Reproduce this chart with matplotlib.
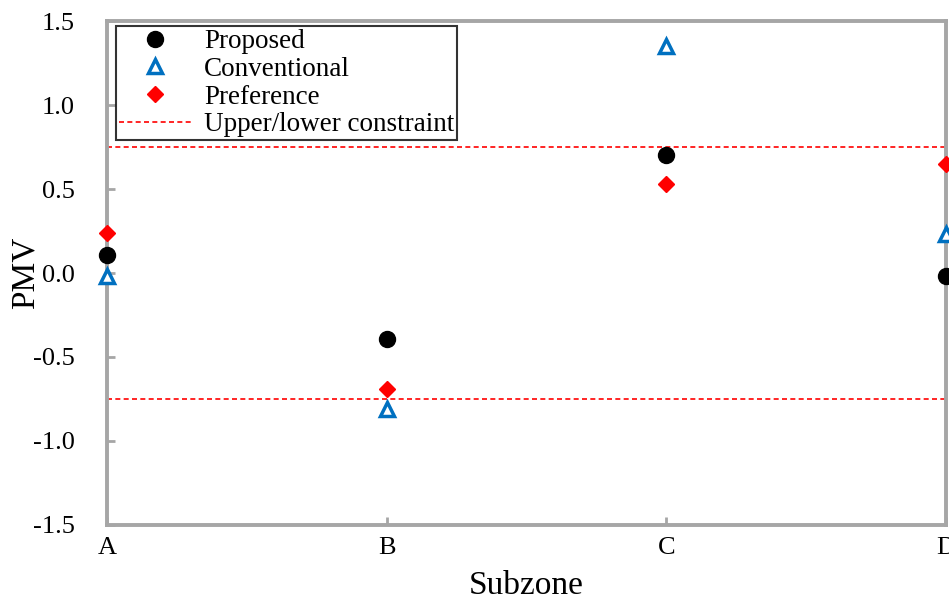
import matplotlib.pyplot as plt
import numpy as np

plt.rcParams['font.family'] = ['Liberation Serif', 'DejaVu Serif']

subzones = ["A", "B", "C", "D"]
proposed = [0.11, -0.39, 0.70, -0.02]
conventional = [-0.02, -0.81, 1.35, 0.23]
preference = [0.24, -0.69, 0.53, 0.65]
upper_limit = 0.75
lower_limit = -0.75

grey = "#A6A6A6"

fig = plt.figure(figsize=(9.49, 6.01), dpi=100)
ax = fig.add_axes([0.1128, 0.1265, 0.8840, 0.8385])

x = np.arange(len(subzones))
ax.plot(x, proposed, "o", color="black", markersize=11.5, linestyle="none",
        label="Proposed", clip_on=False, zorder=4)
ax.plot(x, conventional, "^", markerfacecolor="white", markeredgecolor="#0070C0",
        markeredgewidth=2.5, markersize=10, linestyle="none",
        label="Conventional", clip_on=False, zorder=4)
ax.plot(x, preference, "D", color="#FF0000", markersize=8.5, linestyle="none",
        label="Preference", clip_on=False, zorder=5)
ax.axhline(upper_limit, color="#FF0000", linestyle=(0, (3, 2)), linewidth=1.2,
           label="Upper/lower constraint", clip_on=False)
ax.axhline(lower_limit, color="#FF0000", linestyle=(0, (3, 2)), linewidth=1.2,
           clip_on=False)

ax.set_xlim(0, 3)
ax.set_ylim(-1.5, 1.5)
ax.set_xticks(x)
ax.set_xticklabels(subzones)
ax.set_yticks(np.arange(-1.5, 1.51, 0.5))
ax.set_yticklabels([f"{v:.1f}" for v in np.arange(-1.5, 1.51, 0.5)])

for s in ax.spines.values():
    s.set_color(grey)
    s.set_linewidth(2.8)
ax.tick_params(direction="in", length=6, width=2, color=grey, labelsize=19)
ax.tick_params(axis="x", pad=9)
ax.tick_params(axis="y", pad=23)

ax.set_xlabel("Subzone", fontsize=24, labelpad=8)
ax.set_ylabel("PMV", fontsize=24, labelpad=-5.5)

leg = ax.legend(loc="upper left", bbox_to_anchor=(0.004, 1.0), fontsize=19.5,
                frameon=True, fancybox=False, edgecolor="black",
                borderpad=0.1, labelspacing=0.1, handlelength=2.7,
                handletextpad=0.45, borderaxespad=0.2)
leg.get_frame().set_linewidth(1.5)
leg.set_zorder(6)

fig.savefig("out.png", dpi=100)
